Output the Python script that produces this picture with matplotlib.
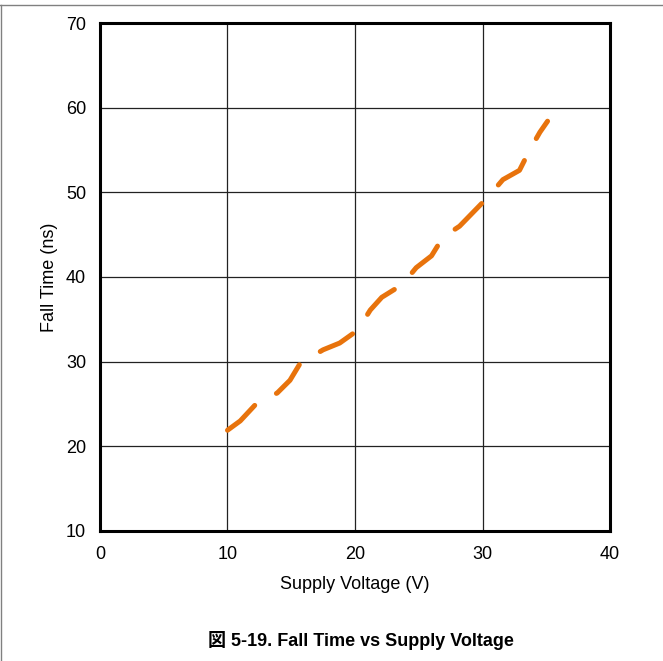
import matplotlib.pyplot as plt
from matplotlib.lines import Line2D

plt.rcParams['font.family'] = ['Liberation Sans', 'Noto Sans CJK JP', 'DejaVu Sans']

voltage = [10.0, 11.0, 12.3, 13.9, 14.9, 15.7, 17.5, 18.8, 20.2, 21.2, 22.1, 23.7,
           24.8, 26.0, 26.9, 28.2, 30.4, 31.6, 32.9, 33.7, 34.5, 35.1]
fall_time = [21.9, 23.0, 25.1, 26.3, 27.8, 29.8, 31.4, 32.2, 33.7, 36.1, 37.6, 39.1,
             41.1, 42.5, 44.7, 46.0, 49.4, 51.5, 52.6, 55.0, 57.1, 58.4]

fig = plt.figure(figsize=(6.63, 6.61), dpi=100)
ax = fig.add_axes([0.1508, 0.1967, 0.7693, 0.7685])

ax.plot(voltage, fall_time, color='#E8730C', linewidth=3.6,
        dashes=(7.4, 5.0), dash_capstyle='round', solid_capstyle='round')

ax.set_xlim(0, 40)
ax.set_ylim(10, 70)
ax.set_xticks([0, 10, 20, 30, 40])
ax.set_yticks([10, 20, 30, 40, 50, 60, 70])
ax.grid(True, color='#222222', linewidth=0.9)
ax.set_axisbelow(True)
ax.tick_params(length=0, labelsize=13)
ax.tick_params(axis='x', pad=11)
ax.tick_params(axis='y', pad=10)
for s in ax.spines.values():
    s.set_linewidth(2.2)
    s.set_color('black')

ax.set_xlabel('Supply Voltage (V)', fontsize=13, labelpad=9)
ax.set_ylabel('Fall Time (ns)', fontsize=13, labelpad=6)

fig.text(361 / 663, 1 - 640 / 661, '図 5-19. Fall Time vs Supply Voltage',
         ha='center', va='center', fontsize=13, fontweight='bold')

# page border lines (top and left)
fig.add_artist(Line2D([0, 1], [1 - 5 / 661, 1 - 5 / 661], color='#808080', linewidth=1,
                      transform=fig.transFigure))
fig.add_artist(Line2D([0.001, 0.001], [0, 1 - 5 / 661], color='#808080', linewidth=1,
                      transform=fig.transFigure))

plt.savefig('out.png', dpi=100)
